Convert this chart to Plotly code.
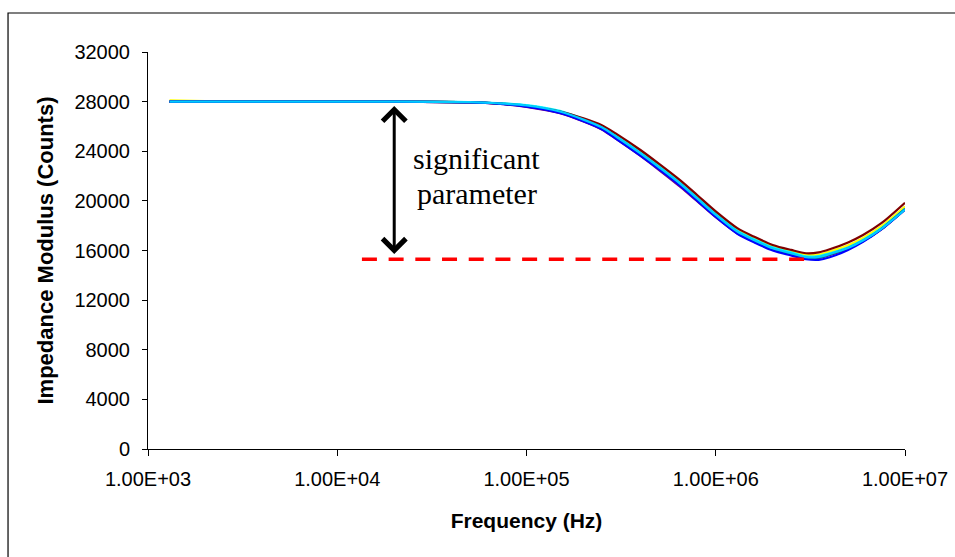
import math
import plotly.graph_objects as go

# Sweep frequencies (Hz)
FREQ_HZ = [1300, 2000, 5000, 10000, 20000, 50000, 70000, 100000, 150000, 200000,
           250000, 300000, 400000, 500000, 650000, 800000, 1000000, 1300000,
           1600000, 2000000, 2500000, 3000000, 3500000, 4000000, 5000000,
           6000000, 7500000, 10000000]

# Impedance modulus (counts) for each measurement run
RUN_1 = [28000, 28000, 28000, 28000, 28000, 27950, 27860, 27620, 27120, 26450,
         25820, 25020, 23700, 22600, 21250, 20050, 18750, 17420, 16730, 16100,
         15700, 15400, 15420, 15660, 16150, 16760, 17720, 19320]
RUN_2 = [28000, 28000, 28000, 28000, 28000, 27950, 27860, 27680, 27200, 26550,
         25950, 25180, 23850, 22750, 21400, 20200, 18900, 17550, 16880, 16250,
         15850, 15550, 15600, 15850, 16350, 16950, 17900, 19500]
RUN_3 = [28100, 28050, 28000, 28000, 28000, 27950, 27860, 27680, 27200, 26600,
         26030, 25280, 23980, 22880, 21530, 20330, 19030, 17680, 16980, 16350,
         15950, 15650, 15680, 15920, 16420, 17020, 17970, 19550]
RUN_4 = [28000, 28000, 28000, 28000, 28000, 27970, 27890, 27720, 27250, 26600,
         25990, 25220, 23900, 22800, 21450, 20250, 18950, 17600, 16900, 16250,
         15850, 15520, 15550, 15780, 16250, 16850, 17800, 19350]
RUN_5 = [28000, 28000, 28000, 28000, 28000, 27940, 27840, 27580, 27070, 26400,
         25760, 24950, 23620, 22500, 21120, 19950, 18680, 17380, 16700, 16080,
         15680, 15400, 15420, 15650, 16150, 16750, 17700, 19300]
RUN_6 = [28000, 28000, 28000, 28000, 28000, 27950, 27850, 27650, 27200, 26650,
         26100, 25380, 24100, 23000, 21650, 20450, 19150, 17800, 17100, 16450,
         16050, 15780, 15850, 16100, 16650, 17250, 18200, 19850]
RUN_7 = [28000, 28000, 28000, 28000, 28000, 27950, 27860, 27650, 27160, 26500,
         25890, 25100, 23780, 22680, 21330, 20130, 18830, 17480, 16780, 16120,
         15700, 15400, 15430, 15680, 16180, 16780, 17750, 19350]
RUN_8 = [28000, 28000, 28000, 28000, 28000, 27940, 27840, 27600, 27090, 26420,
         25780, 24970, 23650, 22550, 21200, 20000, 18700, 17350, 16650, 16000,
         15600, 15300, 15250, 15450, 16050, 16700, 17700, 19300]
RUN_9 = [28000, 28000, 28000, 28000, 28000, 27960, 27870, 27690, 27200, 26550,
         25930, 25150, 23830, 22720, 21370, 20170, 18870, 17520, 16830, 16180,
         15780, 15460, 15480, 15720, 16200, 16800, 17750, 19300]

RUNS = [RUN_1, RUN_2, RUN_3, RUN_4, RUN_5, RUN_6, RUN_7, RUN_8, RUN_9]
RUN_COLORS = ["#000080", "#FF00FF", "#FFFF00", "#00FFFF", "#800080",
              "#800000", "#008080", "#0000FF", "#00CCFF"]

# Reference level of the resonance minimum and the span it is drawn across
MIN_LEVEL = 15300
MIN_SPAN_HZ = [13500, 3000000]

# Double arrow marking the drop from the plateau to the minimum
ARROW_FREQ = 20000
ARROW_TOP = 27650
ARROW_BOTTOM = 15600

X_TICKS = [1e3, 1e4, 1e5, 1e6, 1e7]
X_TICK_TEXT = ["1.00E+03", "1.00E+04", "1.00E+05", "1.00E+06", "1.00E+07"]
Y_TICKS = [0, 4000, 8000, 12000, 16000, 20000, 24000, 28000, 32000]
Y_TICK_TEXT = [str(v) for v in Y_TICKS]

SANS = "Liberation Sans, Arial, sans-serif"
SERIF = "Liberation Serif, Times New Roman, serif"

fig = go.Figure()

for vals, col in zip(RUNS, RUN_COLORS):
    fig.add_trace(go.Scatter(
        x=FREQ_HZ, y=vals, mode="lines",
        line=dict(color=col, width=2.2, shape="spline", smoothing=0.8),
        showlegend=False, hoverinfo="skip",
    ))

fig.add_trace(go.Scatter(
    x=MIN_SPAN_HZ, y=[MIN_LEVEL, MIN_LEVEL], mode="lines",
    line=dict(color="#FF0000", width=3.5, dash="15px,11.7px"),
    showlegend=False, hoverinfo="skip",
))

ax_x = math.log10(ARROW_FREQ)
fig.add_annotation(
    x=ax_x, y=ARROW_TOP, ax=ax_x, ay=ARROW_BOTTOM,
    xref="x", yref="y", axref="x", ayref="y",
    text="", showarrow=True, arrowside="end+start",
    arrowhead=4, startarrowhead=4, arrowsize=1.5, startarrowsize=1.5,
    arrowwidth=3, arrowcolor="#000000", standoff=0, startstandoff=0,
)

text_x = 4.738
fig.add_annotation(x=text_x, y=23380, xref="x", yref="y", text="significant",
                   showarrow=False, xanchor="center", yanchor="middle",
                   font=dict(family=SERIF, size=30, color="#000000"))
fig.add_annotation(x=text_x, y=20630, xref="x", yref="y", text="parameter",
                   showarrow=False, xanchor="center", yanchor="middle",
                   font=dict(family=SERIF, size=30, color="#000000"))

# Outer chart frame
fig.add_shape(type="rect", xref="paper", yref="paper",
              x0=-0.1849, x1=1.3, y0=-0.5, y1=1.0982,
              line=dict(color="#000000", width=1.2), fillcolor="rgba(0,0,0,0)",
              layer="below")

fig.update_layout(
    width=955, height=557,
    margin=dict(l=148, r=50, t=52, b=108, autoexpand=False),
    paper_bgcolor="#FFFFFF", plot_bgcolor="#FFFFFF",
    font=dict(family=SANS, color="#000000"),
    xaxis=dict(
        type="log", range=[3, 7], automargin=False,
        tickmode="array", tickvals=X_TICKS, ticktext=X_TICK_TEXT,
        ticks="outside", ticklen=6, tickwidth=1, tickcolor="#000000",
        showline=True, linecolor="#000000", linewidth=1,
        showgrid=False, zeroline=False,
        tickfont=dict(family=SANS, size=20),
        ticklabelstandoff=6,
        title=dict(text="<b>Frequency (Hz)</b>", font=dict(family=SANS, size=21),
                   standoff=24),
    ),
    yaxis=dict(
        range=[0, 32000], automargin=False,
        tickmode="array", tickvals=Y_TICKS, ticktext=Y_TICK_TEXT,
        ticks="outside", ticklen=5, tickwidth=1, tickcolor="#000000",
        showline=True, linecolor="#000000", linewidth=1,
        showgrid=False, zeroline=False,
        tickfont=dict(family=SANS, size=20),
        ticklabelstandoff=8,
        title=dict(text="<b>Impedance Modulus (Counts)</b>",
                   font=dict(family=SANS, size=22), standoff=14),
    ),
)

fig.write_html("out.html")
